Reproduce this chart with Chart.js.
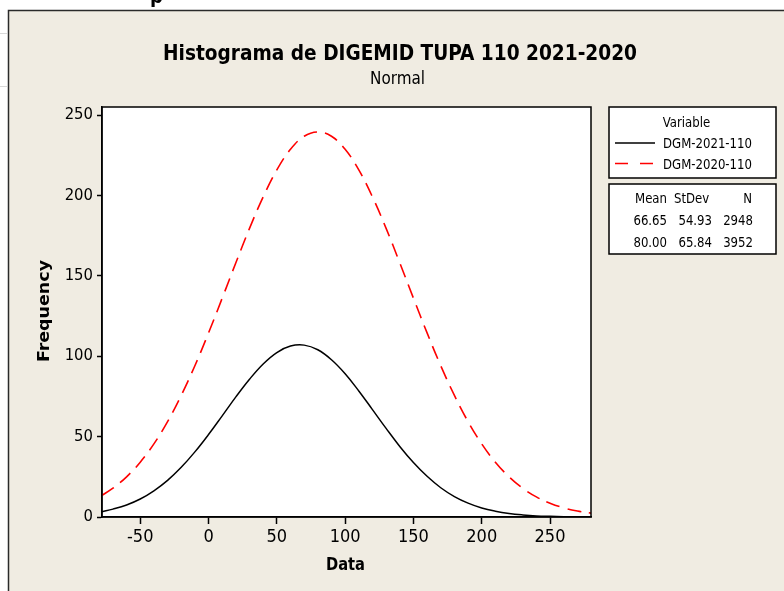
<!DOCTYPE html>
<html>
<head>
<meta charset="utf-8">
<script src="https://cdn.jsdelivr.net/npm/chart.js@4/dist/chart.umd.min.js"></script>
<style>
  html, body { margin: 0; padding: 0; background: #ffffff; }
  canvas { display: block; }
</style>
</head>
<body>
<canvas id="c" width="784" height="591" style="width:784px;height:591px"></canvas>
<script>
// ---- data ----
const titleText = "Histograma de DIGEMID TUPA 110 2021-2020";
const subtitleText = "Normal";
const xAxisTitle = "Data";
const yAxisTitle = "Frequency";
const seriesNames = ["DGM-2021-110", "DGM-2020-110"];
const statHeaders = ["Mean", "StDev", "N"];
const means = ["66.65", "80.00"];
const stdevs = ["54.93", "65.84"];
const counts = ["2948", "3952"];
const xTicks = [-50, 0, 50, 100, 150, 200, 250];
const yTicks = [0, 50, 100, 150, 200, 250];
const xVals = [-78, -70, -60, -50, -40, -30, -20, -10, 0, 10, 20, 30, 40, 50, 60, 70, 80, 90, 100,
  110, 120, 130, 140, 150, 160, 170, 180, 190, 200, 210, 220, 230, 240, 250, 260, 270, 280];
const dgm2021 = [3.3, 4.9, 7.5, 11.2, 16.3, 22.8, 30.9, 40.5, 51.3, 62.9, 74.7, 85.7, 95.2, 102.3, 106.3, 106.9, 104.0, 97.8, 89.1,
  78.4, 66.8, 55.1, 43.9, 33.9, 25.3, 18.2, 12.7, 8.6, 5.6, 3.6, 2.2, 1.3, 0.7, 0.4, 0.2, 0.1, 0.0];
const dgm2020 = [13.5, 17.9, 25.0, 34.1, 45.5, 59.3, 75.6, 94.1, 114.5, 136.1, 158.1, 179.5, 199.1, 215.9, 228.7, 236.8, 239.5, 236.8, 228.7,
  215.9, 199.1, 179.5, 158.1, 136.1, 114.5, 94.1, 75.6, 59.3, 45.5, 34.1, 25.0, 17.9, 12.5, 8.6, 5.7, 3.7, 2.4];

const BEIGE = "#f0ece2";
const COND = "'DejaVu Sans Condensed', 'DejaVu Sans', sans-serif";

function fitText(ctx, text, x, y, font, width, align) {
  ctx.save();
  ctx.font = font;
  const w = ctx.measureText(text).width;
  const s = width / w;
  ctx.translate(x, y);
  ctx.scale(s, 1);
  ctx.textAlign = align;
  ctx.textBaseline = "alphabetic";
  ctx.fillText(text, 0, 0);
  ctx.restore();
}
function scaledText(ctx, text, x, y, font, s, align) {
  ctx.save();
  ctx.font = font;
  ctx.translate(x, y);
  ctx.scale(s, 1);
  ctx.textAlign = align;
  ctx.textBaseline = "alphabetic";
  ctx.fillText(text, 0, 0);
  ctx.restore();
}

const decor = {
  id: "decor",
  beforeDraw(chart) {
    const ctx = chart.ctx;
    const a = chart.chartArea;
    ctx.save();
    ctx.fillStyle = "#ffffff";
    ctx.fillRect(0, 0, 784, 591);
    ctx.strokeStyle = "#d8d8d8";
    ctx.lineWidth = 1;
    [33.5, 86.5].forEach(y => { ctx.beginPath(); ctx.moveTo(0, y); ctx.lineTo(7, y); ctx.stroke(); });
    ctx.beginPath(); ctx.rect(0, 0, 784, 10); ctx.clip();
    ctx.fillStyle = "#000";
    ctx.font = "bold 20px " + COND;
    ctx.textBaseline = "alphabetic";
    ctx.fillText("p", 150, 3);
    ctx.restore();
    ctx.save();
    ctx.fillStyle = BEIGE;
    ctx.fillRect(8, 10, 784 - 8, 591 - 10);
    ctx.strokeStyle = "#2a2a2a";
    ctx.lineWidth = 1.5;
    ctx.beginPath();
    ctx.moveTo(8.5, 591); ctx.lineTo(8.5, 10.5); ctx.lineTo(784, 10.5);
    ctx.stroke();
    ctx.fillStyle = "#ffffff";
    ctx.fillRect(a.left, a.top, a.right - a.left, a.bottom - a.top);
    ctx.restore();
  },
  afterDraw(chart) {
    const ctx = chart.ctx;
    const a = chart.chartArea;
    ctx.save();
    ctx.strokeStyle = "#000";
    ctx.lineWidth = 1.5;
    ctx.strokeRect(a.left, a.top, a.right - a.left, a.bottom - a.top);
    ctx.fillStyle = "#000";
    fitText(ctx, titleText, 400, 60, "bold 20.5px " + COND, 474, "center");
    fitText(ctx, subtitleText, 397.5, 84, "18px " + COND, 55, "center");
    fitText(ctx, xAxisTitle, 345.5, 570, "bold 17px " + COND, 39, "center");
    ctx.save();
    ctx.translate(48.5, 311);
    ctx.rotate(-Math.PI / 2);
    fitText(ctx, yAxisTitle, 0, 0, "bold 16px " + COND, 102, "center");
    ctx.restore();
    ctx.fillStyle = "#ffffff";
    ctx.fillRect(609, 107, 167, 71);
    ctx.fillRect(609, 184, 167, 70);
    ctx.strokeStyle = "#000";
    ctx.lineWidth = 1.5;
    ctx.strokeRect(609, 107, 167, 71);
    ctx.strokeRect(609, 184, 167, 70);
    const lf = "14.5px " + COND;
    ctx.font = lf;
    const s = 89 / ctx.measureText(seriesNames[0]).width;
    ctx.fillStyle = "#000";
    scaledText(ctx, "Variable", 686.5, 127, lf, s, "center");
    scaledText(ctx, seriesNames[0], 663, 148, lf, s, "left");
    scaledText(ctx, seriesNames[1], 663, 169, lf, s, "left");
    ctx.lineWidth = 1.5;
    ctx.strokeStyle = "#000";
    ctx.beginPath(); ctx.moveTo(615, 143); ctx.lineTo(655, 143); ctx.stroke();
    ctx.strokeStyle = "#ff0000";
    ctx.setLineDash([13, 12]);
    ctx.beginPath(); ctx.moveTo(615, 163.5); ctx.lineTo(655, 163.5); ctx.stroke();
    ctx.setLineDash([]);
    scaledText(ctx, statHeaders[0], 635, 203, lf, s, "left");
    scaledText(ctx, statHeaders[1], 674, 203, lf, s, "left");
    scaledText(ctx, statHeaders[2], 752, 203, lf, s, "right");
    const rowsY = [224.5, 246.5];
    for (let i = 0; i < 2; i++) {
      scaledText(ctx, means[i], 667, rowsY[i], lf, s, "right");
      scaledText(ctx, stdevs[i], 712, rowsY[i], lf, s, "right");
      scaledText(ctx, counts[i], 753, rowsY[i], lf, s, "right");
    }
    ctx.restore();
  }
};

const pts = arr => xVals.map((x, i) => ({ x: x, y: arr[i] }));

new Chart(document.getElementById("c"), {
  type: "line",
  data: {
    datasets: [
      { label: seriesNames[1], data: pts(dgm2020), borderColor: "#ff0000", borderWidth: 1.6,
        borderDash: [14, 8], pointRadius: 0, tension: 0.4, fill: false },
      { label: seriesNames[0], data: pts(dgm2021), borderColor: "#000000", borderWidth: 1.5,
        pointRadius: 0, tension: 0.4, fill: false }
    ]
  },
  options: {
    responsive: false,
    animation: false,
    devicePixelRatio: 1,
    layout: { padding: { left: 0, right: 193, top: 107, bottom: 0 } },
    plugins: { legend: { display: false }, title: { display: false }, tooltip: { enabled: false } },
    scales: {
      x: {
        type: "linear", min: -78, max: 280,
        afterBuildTicks: sc => { sc.ticks = xTicks.map(v => ({ value: v })); },
        afterFit: sc => { sc.height = 74; },
        grid: { display: true, drawOnChartArea: false, drawTicks: true, tickLength: 7, color: "#000", tickWidth: 1.5 },
        border: { display: true, color: "#000", width: 1.5 },
        ticks: { color: "#000", padding: 3, maxRotation: 0, autoSkip: false,
          font: { family: COND, size: 18 } }
      },
      y: {
        type: "linear", min: 0, max: 255,
        afterBuildTicks: sc => { sc.ticks = yTicks.map(v => ({ value: v })); },
        afterFit: sc => { sc.width = 102; },
        grid: { display: true, drawOnChartArea: false, drawTicks: true, tickLength: 5, color: "#000", tickWidth: 1.5 },
        border: { display: true, color: "#000", width: 1.5 },
        ticks: { color: "#000", padding: 4, autoSkip: false,
          font: { family: COND, size: 16.5 } }
      }
    }
  },
  plugins: [decor]
});
</script>
</body>
</html>
